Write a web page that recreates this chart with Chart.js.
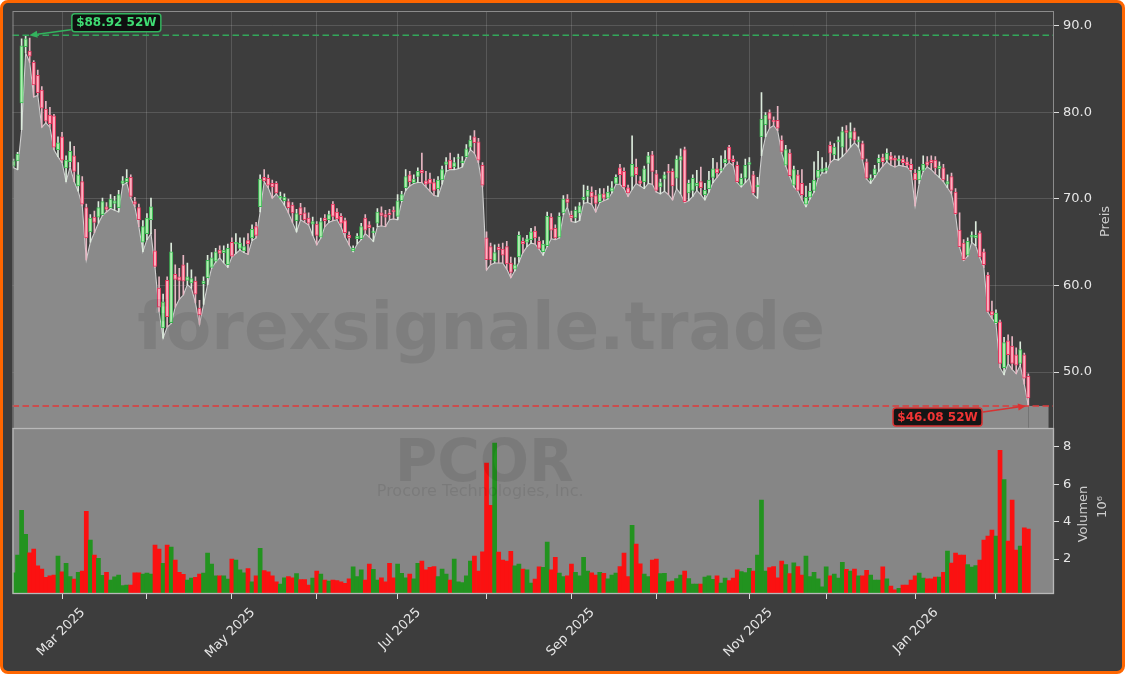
<!DOCTYPE html>
<html>
<head>
<meta charset="utf-8">
<script src="https://cdn.jsdelivr.net/npm/chart.js@4.4.1/dist/chart.umd.min.js"></script>
<style>
  html, body { margin: 0; padding: 0; background: #ffffff; }
  #rahmen { width: 1125px; height: 674px; box-sizing: border-box; border: 3px solid #ff6600; border-radius: 8px; background: #3d3d3d; overflow: hidden; }
  canvas { display: block; }
</style>
</head>
<body>
<div id="rahmen"><canvas id="chart" width="1119" height="668"></canvas></div>
<script>
// Monate und Handelstage (12.02.2025 - 12.02.2026)
const monate = ["Feb 2025", "Mar 2025", "Apr 2025", "May 2025", "Jun 2025", "Jul 2025", "Aug 2025", "Sep 2025", "Oct 2025", "Nov 2025", "Dec 2025", "Jan 2026", "Feb 2026"];
const handelstage = [12, 21, 21, 21, 20, 22, 21, 21, 23, 19, 22, 20, 9];
const beschriftet = ["Mar 2025", "May 2025", "Jul 2025", "Sep 2025", "Nov 2025", "Jan 2026"];
const preisTicks = [50, 60, 70, 80, 90];
const volTicks = [2, 4, 6, 8];

const eroeffnung = [
  73.8, 74.4, 81.1, 87.6, 87.1, 85.8, 84.3, 82.6, 80.4, 79.7,
  79.6, 75.7, 77.2, 73.6, 74.3, 75.0, 71.5, 72.0, 69.0, 66.2,
  67.9, 67.9, 68.2, 69.1, 69.0, 69.5, 69.0, 71.8, 72.0, 72.5,
  69.7, 69.0, 65.0, 66.0, 67.6, 64.0, 59.7, 55.1, 60.6, 55.7,
  61.3, 61.0, 62.4, 60.6, 60.3, 60.5, 57.4, 60.2, 60.9, 62.1,
  62.8, 64.1, 63.8, 62.4, 65.0, 64.8, 64.3, 64.0, 65.2, 65.5,
  66.8, 69.1, 72.5, 72.4, 71.8, 71.8, 70.1, 69.8, 69.7, 69.3,
  67.5, 69.0, 68.4, 67.8, 67.1, 67.1, 65.6, 67.8, 67.6, 69.4,
  68.5, 68.0, 67.5, 65.8, 64.0, 65.4, 65.4, 67.8, 67.0, 66.1,
  67.2, 68.4, 68.2, 68.4, 68.7, 68.0, 69.8, 71.3, 72.8, 71.9,
  72.6, 73.3, 72.1, 72.3, 71.9, 71.2, 72.2, 74.0, 74.5, 73.7,
  74.7, 74.2, 74.9, 76.0, 77.2, 76.6, 73.9, 65.5, 64.5, 62.8,
  64.4, 64.2, 64.5, 62.6, 61.9, 63.3, 65.1, 65.0, 65.3, 66.3,
  65.1, 63.9, 64.6, 67.9, 66.6, 65.6, 68.4, 70.0, 68.1, 67.8,
  68.4, 69.9, 70.3, 70.8, 70.4, 69.7, 70.6, 70.1, 70.9, 71.8,
  73.6, 73.2, 71.3, 72.6, 73.7, 72.1, 72.0, 74.1, 75.1, 72.9,
  71.4, 72.3, 73.2, 73.2, 72.4, 74.5, 75.7, 70.7, 71.0, 71.5,
  72.0, 70.5, 71.2, 72.5, 73.5, 73.3, 74.2, 76.0, 74.6, 73.9,
  71.6, 72.4, 74.0, 72.8, 71.4, 77.2, 78.6, 80.0, 79.1, 79.1,
  76.8, 73.9, 75.3, 71.6, 72.8, 71.8, 69.4, 70.2, 71.0, 72.5,
  73.2, 73.3, 76.2, 75.1, 76.6, 76.0, 77.9, 77.0, 77.8, 76.6,
  76.4, 74.3, 72.2, 72.8, 74.2, 74.8, 74.5, 75.0, 74.7, 74.4,
  74.6, 74.3, 74.0, 73.0, 72.2, 73.3, 74.3, 74.5, 74.5, 73.5,
  73.6, 71.7, 72.6, 70.8, 66.4, 64.9, 63.5, 65.6, 65.5, 66.1,
  63.9, 61.2, 57.0, 55.7, 55.8, 50.5, 53.6, 53.0, 52.0, 51.0,
  52.0, 49.5
];
const hoch = [
  74.6, 75.4, 88.5, 88.92, 88.6, 86.0, 84.9, 83.0, 81.3, 80.6,
  79.8, 77.2, 77.7, 75.0, 76.6, 76.1, 74.2, 72.6, 69.4, 68.2,
  68.6, 69.7, 70.1, 69.6, 70.5, 70.3, 71.0, 72.6, 73.4, 72.8,
  70.2, 69.4, 67.5, 68.3, 70.1, 66.5, 61.0, 59.0, 61.0, 64.9,
  62.4, 62.0, 63.5, 62.6, 61.8, 61.0, 58.3, 61.0, 63.5, 63.8,
  64.3, 64.6, 64.6, 64.8, 65.5, 66.0, 65.5, 65.5, 66.0, 67.0,
  67.3, 72.8, 73.4, 72.8, 72.2, 72.0, 70.8, 70.6, 70.0, 69.6,
  68.8, 69.5, 69.0, 68.4, 67.9, 67.4, 67.8, 68.2, 68.6, 69.7,
  68.9, 68.3, 67.8, 66.2, 64.6, 66.0, 67.2, 68.2, 67.4, 66.7,
  68.9, 69.1, 68.7, 68.8, 69.1, 70.5, 70.9, 73.4, 73.2, 72.8,
  73.6, 75.3, 73.2, 73.0, 72.3, 72.6, 73.8, 74.8, 75.3, 74.8,
  75.2, 74.9, 76.3, 77.3, 77.9, 77.0, 74.2, 66.2, 64.9, 64.7,
  64.8, 64.9, 65.1, 63.3, 63.2, 66.2, 65.5, 65.8, 66.6, 66.8,
  65.6, 65.2, 68.5, 68.3, 67.0, 68.4, 70.4, 70.5, 68.6, 69.1,
  69.6, 71.6, 71.5, 71.4, 71.0, 71.2, 71.2, 71.5, 72.0, 72.8,
  74.0, 73.6, 71.6, 77.3, 74.6, 72.6, 73.8, 75.4, 75.5, 73.3,
  72.3, 73.1, 74.0, 73.5, 75.0, 75.8, 76.0, 72.2, 72.8, 73.3,
  73.7, 71.8, 73.2, 74.7, 74.2, 75.0, 75.6, 76.2, 75.0, 74.3,
  72.9, 74.6, 74.8, 73.2, 72.5, 82.3, 80.0, 80.3, 79.5, 80.7,
  77.3, 76.2, 75.7, 73.8, 73.3, 73.4, 71.5, 71.8, 74.3, 75.5,
  74.8, 74.2, 76.6, 76.4, 77.2, 78.3, 78.5, 78.8, 78.2, 77.2,
  76.7, 74.6, 72.8, 73.9, 75.1, 75.2, 75.8, 75.4, 75.0, 75.0,
  75.0, 74.8, 74.6, 73.4, 73.7, 75.0, 74.9, 75.0, 74.9, 74.3,
  74.0, 72.8, 73.0, 71.2, 68.4, 65.3, 65.5, 66.2, 67.4, 66.3,
  64.2, 61.5, 58.2, 57.2, 56.0, 54.0, 54.3, 54.1, 52.8, 53.5,
  52.2, 49.8
];
const tief = [
  73.6, 73.4, 78.0, 86.9, 85.8, 81.8, 82.0, 78.3, 78.8, 78.3,
  75.7, 74.9, 74.2, 72.0, 73.7, 72.0, 70.9, 69.2, 62.95, 65.0,
  66.1, 67.2, 68.1, 68.5, 68.9, 68.7, 68.5, 71.6, 71.9, 70.1,
  69.1, 66.8, 63.9, 65.3, 66.0, 62.1, 57.0, 53.9, 55.2, 55.6,
  57.5, 58.4, 58.9, 60.1, 59.7, 58.0, 55.5, 57.8, 60.1, 62.0,
  62.7, 63.2, 62.6, 62.1, 63.3, 63.7, 64.1, 63.8, 63.6, 65.2,
  65.5, 68.5, 72.0, 71.3, 70.1, 70.6, 70.0, 69.3, 68.4, 67.3,
  66.2, 67.6, 67.3, 67.0, 65.8, 64.7, 65.5, 66.8, 67.3, 67.5,
  67.6, 66.8, 65.6, 64.7, 63.9, 64.8, 65.3, 66.0, 65.6, 65.1,
  66.8, 66.9, 66.8, 67.6, 67.7, 67.6, 69.7, 71.0, 71.5, 71.8,
  71.9, 71.9, 71.4, 70.9, 70.4, 70.3, 71.7, 73.2, 73.4, 73.4,
  73.5, 73.7, 74.8, 75.7, 75.3, 74.2, 71.4, 61.8, 62.4, 62.6,
  62.6, 62.6, 61.9, 60.9, 61.7, 62.7, 63.8, 64.5, 64.9, 64.8,
  64.2, 63.5, 64.5, 65.4, 65.3, 65.5, 68.2, 69.1, 67.4, 67.3,
  67.5, 69.5, 69.6, 69.4, 68.5, 69.6, 69.8, 70.0, 70.7, 71.7,
  71.7, 71.2, 70.3, 71.1, 71.8, 71.5, 71.2, 71.8, 71.7, 70.8,
  70.6, 70.9, 70.5, 69.9, 71.2, 70.6, 69.6, 69.8, 70.3, 71.0,
  70.5, 69.9, 70.8, 71.9, 72.5, 73.1, 73.8, 74.2, 73.9, 71.9,
  71.4, 71.9, 72.4, 70.5, 70.1, 75.0, 77.2, 78.2, 78.5, 77.9,
  75.3, 73.8, 72.6, 71.4, 70.9, 69.9, 69.1, 70.0, 70.8, 72.4,
  73.0, 73.0, 74.2, 74.6, 74.5, 74.9, 75.4, 76.0, 76.5, 76.0,
  74.5, 72.3, 71.8, 72.5, 73.2, 73.8, 74.3, 73.9, 73.7, 73.9,
  73.8, 73.7, 73.2, 69.2, 71.8, 73.2, 73.7, 73.4, 72.9, 72.5,
  72.0, 71.3, 70.6, 68.2, 64.4, 62.9, 63.4, 65.0, 64.6, 63.2,
  62.1, 56.9, 56.2, 55.6, 50.5, 49.7, 51.0, 50.3, 49.8, 50.8,
  48.6, 46.08
];
const schluss = [
  74.4, 75.2, 87.7, 88.5, 86.5, 83.2, 82.3, 80.5, 79.0, 78.7,
  76.0, 76.5, 74.5, 74.5, 75.5, 73.2, 72.8, 69.4, 65.5, 67.8,
  67.3, 69.0, 69.7, 68.8, 70.0, 69.8, 70.5, 72.1, 72.4, 70.3,
  69.4, 67.6, 66.8, 67.8, 69.1, 62.2, 57.5, 58.1, 56.4, 63.9,
  60.7, 60.6, 60.5, 61.0, 60.8, 59.0, 56.6, 60.5, 62.9, 63.2,
  63.9, 63.7, 64.1, 64.3, 63.4, 65.0, 64.9, 64.5, 64.8, 66.5,
  65.8, 72.3, 72.1, 71.6, 71.4, 70.7, 70.3, 70.2, 69.0, 68.4,
  68.3, 68.2, 67.6, 67.2, 67.4, 65.8, 67.4, 67.5, 68.2, 68.0,
  67.7, 67.2, 66.1, 65.5, 64.3, 65.7, 66.8, 66.4, 66.7, 66.3,
  68.5, 68.1, 67.9, 68.2, 68.5, 69.8, 70.5, 72.6, 72.0, 72.3,
  73.2, 73.0, 71.7, 71.8, 71.0, 72.2, 73.4, 74.3, 73.5, 74.2,
  74.8, 74.4, 75.8, 76.8, 76.5, 74.5, 71.6, 63.0, 63.0, 63.8,
  64.1, 63.5, 62.5, 61.5, 62.4, 65.8, 64.8, 65.4, 66.2, 65.5,
  64.3, 64.8, 68.0, 66.4, 65.5, 68.0, 70.0, 69.6, 67.8, 68.7,
  69.2, 70.2, 71.0, 70.2, 69.5, 70.6, 70.1, 70.8, 71.3, 72.5,
  72.8, 71.4, 70.7, 74.0, 72.8, 71.8, 73.5, 75.0, 73.2, 71.0,
  71.9, 72.8, 73.0, 71.5, 74.6, 74.9, 69.7, 71.8, 72.4, 71.8,
  71.3, 71.0, 72.2, 73.5, 73.0, 73.5, 74.6, 74.5, 74.3, 72.0,
  72.4, 73.9, 74.2, 70.7, 71.6, 79.2, 79.7, 79.2, 78.9, 78.2,
  75.5, 75.7, 72.7, 73.4, 71.0, 70.5, 70.2, 70.9, 72.2, 73.3,
  73.5, 73.6, 75.3, 76.0, 76.8, 77.8, 77.7, 77.8, 76.8, 76.8,
  74.6, 72.4, 72.4, 73.5, 74.7, 74.3, 75.3, 74.5, 74.5, 74.6,
  74.2, 73.9, 73.4, 72.2, 73.3, 74.0, 73.9, 74.2, 73.6, 73.8,
  72.2, 72.0, 71.0, 68.3, 64.5, 63.0, 65.1, 65.8, 65.8, 63.3,
  62.4, 57.0, 56.6, 56.8, 51.0, 53.4, 52.0, 51.0, 50.8, 52.6,
  49.3, 47.0
];
// Volumen in Millionen
const volumen = [
  1.27, 2.21, 4.61, 3.33, 2.34, 2.53, 1.64, 1.47, 1.02, 1.11,
  1.15, 2.16, 1.32, 1.77, 1.07, 0.93, 1.29, 1.36, 4.56, 3.01,
  2.21, 2.04, 1.13, 1.29, 0.88, 1.05, 1.15, 0.58, 0.61, 0.61,
  1.27, 1.27, 1.2, 1.25, 1.2, 2.75, 2.53, 1.77, 2.75, 2.64,
  1.95, 1.29, 1.18, 0.88, 0.99, 1.02, 1.2, 1.25, 2.32, 1.73,
  1.11, 1.11, 1.11, 0.93, 2.0, 1.95, 1.42, 1.27, 1.49, 0.79,
  1.11, 2.57, 1.38, 1.32, 1.11, 0.79, 0.67, 1.0, 1.07, 1.0,
  1.22, 0.9, 0.9, 0.61, 0.99, 1.36, 1.2, 0.88, 0.83, 0.88,
  0.85, 0.79, 0.7, 0.95, 1.59, 1.07, 1.42, 0.88, 1.73, 1.45,
  0.88, 1.0, 0.79, 1.77, 1.0, 1.73, 1.24, 1.0, 1.2, 0.94,
  1.77, 1.89, 1.42, 1.56, 1.6, 1.07, 1.47, 1.2, 0.88, 2.0,
  0.79, 0.74, 1.11, 1.89, 2.16, 1.36, 2.39, 7.13, 4.88, 8.2,
  2.37, 1.95, 1.89, 2.42, 1.64, 1.73, 1.47, 1.42, 0.72, 0.93,
  1.58, 1.56, 2.91, 1.42, 2.1, 1.25, 1.07, 1.1, 1.73, 1.29,
  1.11, 2.1, 1.36, 1.27, 1.15, 1.29, 1.24, 0.94, 1.15, 1.25,
  1.6, 2.32, 1.07, 3.81, 2.8, 1.75, 1.2, 1.07, 1.95, 2.0,
  1.22, 1.24, 0.79, 0.82, 0.96, 1.15, 1.36, 0.96, 0.67, 0.67,
  0.67, 1.04, 1.1, 0.92, 1.1, 0.72, 0.99, 0.85, 0.99, 1.42,
  1.33, 1.28, 1.51, 1.36, 2.21, 5.15, 1.36, 1.54, 1.6, 1.0,
  1.89, 1.7, 1.22, 1.8, 1.6, 1.15, 2.16, 1.07, 1.29, 0.94,
  0.52, 1.58, 1.1, 1.2, 0.98, 1.83, 1.45, 1.36, 1.47, 1.1,
  1.1, 1.4, 1.15, 0.88, 0.88, 1.58, 0.94, 0.56, 0.35, 0.44,
  0.61, 0.61, 0.88, 1.1, 1.25, 0.99, 0.94, 0.94, 1.04, 1.04,
  1.29, 2.43, 1.79, 2.32, 2.21, 2.21, 1.7, 1.57, 1.65, 1.95,
  3.01, 3.23, 3.55, 3.23, 7.81, 6.25, 2.96, 5.15, 2.48, 2.69,
  3.67, 3.6
];

const tage = schluss.map((_, i) => i);
const steigt = schluss.map((c, i) => c >= eroeffnung[i]);

const monatsStart = [];
let summe = 0;
handelstage.forEach(n => { monatsStart.push(summe); summe += n; });

const hoch52 = Math.max(...hoch);
const tief52 = Math.min(...tief);
const letzter = tage.length - 1;

Chart.defaults.font.family = '"DejaVu Sans", sans-serif';
Chart.defaults.font.size = 13;

function ohnePadding(s) {
  s.paddingTop = 0;
  s.paddingBottom = 0;
  s.paddingLeft = 0;
  s.paddingRight = 0;
}

function markierung(ctx, spitzeX, spitzeY, startX, startY, boxX, boxY, text, farbe, textFarbe) {
  const w = Math.atan2(spitzeY - startY, spitzeX - startX);
  const kopf = 8;
  const bx = spitzeX - kopf * Math.cos(w), by = spitzeY - kopf * Math.sin(w);
  ctx.strokeStyle = farbe;
  ctx.fillStyle = farbe;
  ctx.lineWidth = 1.5;
  ctx.setLineDash([]);
  ctx.beginPath(); ctx.moveTo(startX, startY); ctx.lineTo(bx, by); ctx.stroke();
  ctx.beginPath();
  ctx.moveTo(spitzeX, spitzeY);
  ctx.lineTo(bx + 3.5 * Math.sin(w), by - 3.5 * Math.cos(w));
  ctx.lineTo(bx - 3.5 * Math.sin(w), by + 3.5 * Math.cos(w));
  ctx.closePath(); ctx.fill();

  ctx.beginPath();
  if (ctx.roundRect) ctx.roundRect(boxX, boxY, 89, 18, 3); else ctx.rect(boxX, boxY, 89, 18);
  ctx.fillStyle = 'rgba(12,12,12,0.93)';
  ctx.fill();
  ctx.lineWidth = 1.5;
  ctx.strokeStyle = farbe;
  ctx.stroke();
  ctx.fillStyle = textFarbe;
  ctx.font = 'bold 12px "DejaVu Sans"';
  ctx.textAlign = 'center';
  ctx.textBaseline = 'middle';
  ctx.fillText(text, boxX + 44.5, boxY + 9.5);
}

const extras = {
  id: 'extras',
  beforeDatasetsDraw(chart) {
    const {ctx, chartArea} = chart;
    const x = chart.scales.x, y = chart.scales.y, yv = chart.scales.yv;
    ctx.save();
    ctx.fillStyle = '#868686';
    ctx.fillRect(chartArea.left, yv.top, chartArea.right - chartArea.left, yv.bottom - yv.top);
    // Flaeche nach dem letzten Handelstag bis zum 52W-Tief
    const x0 = x.getPixelForValue(letzter), x1 = x.getPixelForValue(letzter + 5);
    const yT = y.getPixelForValue(tief52);
    ctx.fillStyle = '#8a8a8a';
    ctx.fillRect(x0, yT, x1 - x0, y.bottom - yT);
    ctx.restore();
  },
  afterDatasetsDraw(chart) {
    const {ctx, chartArea} = chart;
    const x = chart.scales.x, y = chart.scales.y, yv = chart.scales.yv;
    const mitte = chartArea.left + 0.45 * (chartArea.right - chartArea.left);
    ctx.save();

    // Wasserzeichen
    ctx.fillStyle = 'rgba(0,0,0,0.085)';
    ctx.textAlign = 'center';
    ctx.textBaseline = 'alphabetic';
    ctx.font = 'bold 66px "DejaVu Sans"';
    ctx.fillText('forexsignale.trade', mitte, y.top + 0.81 * (y.bottom - y.top));
    ctx.font = 'bold 58px "DejaVu Sans"';
    ctx.fillText('PCOR', mitte + 3, yv.top + 53);
    ctx.font = '16px "DejaVu Sans"';
    ctx.fillText('Procore Technologies, Inc.', mitte - 1, yv.top + 68);

    // 52W Linien
    const yH = y.getPixelForValue(hoch52), yT = y.getPixelForValue(tief52);
    ctx.lineWidth = 1.5;
    ctx.setLineDash([6.5, 3.5]);
    ctx.strokeStyle = '#32a85a';
    ctx.beginPath(); ctx.moveTo(chartArea.left, yH); ctx.lineTo(chartArea.right, yH); ctx.stroke();
    ctx.strokeStyle = '#e03a3a';
    ctx.beginPath(); ctx.moveTo(chartArea.left, yT); ctx.lineTo(chartArea.right, yT); ctx.stroke();

    const hx = x.getPixelForValue(hoch.indexOf(hoch52)) + 3.7;
    markierung(ctx, hx, yH, hx + 41.5, yH - 5.5, hx + 42.5, yH - 21.5,
      '$' + hoch52.toFixed(2) + ' 52W', '#33b35e', '#3fdc73');
    const tx = x.getPixelForValue(tief.indexOf(tief52)) - 2.3;
    markierung(ctx, tx, yT, tx - 43, yT + 6, tx - 133, yT + 2,
      '$' + tief52.toFixed(2) + ' 52W', '#d83232', '#f03434');
    ctx.restore();
  },
  afterDraw(chart) {
    const {ctx, chartArea} = chart;
    const y = chart.scales.y, yv = chart.scales.yv;
    ctx.save();
    // Rahmen der Panels
    ctx.setLineDash([]);
    ctx.lineWidth = 1;
    ctx.strokeStyle = '#8c8c8c';
    ctx.strokeRect(chartArea.left + 0.5, y.top + 0.5, chartArea.right - chartArea.left - 1, y.bottom - y.top);
    ctx.strokeStyle = '#b8b8b8';
    ctx.lineWidth = 1.3;
    ctx.strokeRect(chartArea.left + 0.5, yv.top + 0.5, chartArea.right - chartArea.left - 1, yv.bottom - yv.top - 1);

    // Achsentitel
    ctx.fillStyle = '#cdcdcd';
    ctx.font = '13px "DejaVu Sans"';
    ctx.textAlign = 'center';
    ctx.textBaseline = 'middle';
    const titel = (t, px, py) => {
      ctx.save(); ctx.translate(px, py); ctx.rotate(-Math.PI / 2); ctx.fillText(t, 0, 0); ctx.restore();
    };
    titel('Preis', 1103, (y.top + y.bottom) / 2 + 2);
    titel('Volumen', 1081, yv.top + 86);
    titel('10\u2076', 1100, yv.top + 79);
    ctx.restore();
  }
};

new Chart(document.getElementById('chart'), {
  type: 'bar',
  data: {
    datasets: [
      {
        type: 'line',
        data: tage.map(i => ({x: i, y: tief[i]})),
        yAxisID: 'y',
        borderColor: '#cfcfcf',
        borderWidth: 1.1,
        backgroundColor: '#8a8a8a',
        fill: 'start',
        pointRadius: 0,
        tension: 0,
        order: 3
      },
      {
        data: tage.map(i => ({x: i, y: [tief[i], hoch[i]]})),
        yAxisID: 'y',
        backgroundColor: tage.map(i => steigt[i] ? '#dcebdc' : '#e6b6c2'),
        barThickness: 1,
        grouped: false,
        order: 2
      },
      {
        data: tage.map(i => ({x: i, y: [eroeffnung[i], schluss[i]]})),
        yAxisID: 'y',
        backgroundColor: tage.map(i => steigt[i] ? 'rgba(178,238,178,0.95)' : 'rgba(255,178,194,0.95)'),
        borderColor: tage.map(i => steigt[i] ? '#3dbd55' : '#e6375f'),
        borderWidth: 1,
        borderSkipped: false,
        barThickness: 3.4,
        grouped: false,
        order: 1
      },
      {
        data: tage.map(i => ({x: i, y: volumen[i]})),
        yAxisID: 'yv',
        backgroundColor: tage.map(i => steigt[i] ? '#22931f' : '#fb1111'),
        barPercentage: 1,
        categoryPercentage: 1,
        grouped: false,
        order: 4
      }
    ]
  },
  options: {
    responsive: false,
    animation: false,
    events: [],
    layout: { padding: { left: 9.5, top: 8, right: 0, bottom: 0 }, autoPadding: false },
    plugins: { legend: { display: false }, tooltip: { enabled: false } },
    scales: {
      x: {
        type: 'linear',
        min: -0.25,
        max: 257.35,
        offset: false,
        afterBuildTicks: s => { s.ticks = monatsStart.slice(1).map(v => ({value: v})); },
        afterFit: s => { s.height = 77; ohnePadding(s); },
        grid: { offset: false, color: 'rgba(255,255,255,0.14)', tickLength: 5, tickColor: '#dddddd' },
        border: { display: false },
        ticks: {
          autoSkip: false,
          minRotation: 45,
          maxRotation: 45,
          labelOffset: 21,
          padding: 6,
          color: '#e6e6e6',
          callback: v => {
            const name = monate[monatsStart.indexOf(v)];
            return beschriftet.includes(name) ? name : '';
          }
        }
      },
      y: {
        type: 'linear',
        position: 'right',
        stack: 'panels',
        stackWeight: 417,
        min: 43.53,
        max: 91.73,
        afterBuildTicks: s => { s.ticks = preisTicks.map(v => ({value: v})); },
        afterFit: s => { s.width = 68; ohnePadding(s); },
        grid: { color: 'rgba(255,255,255,0.14)', tickLength: 5, tickColor: '#dddddd' },
        border: { display: false },
        ticks: { padding: 4, color: '#e6e6e6', callback: v => v.toFixed(1) }
      },
      yv: {
        type: 'linear',
        position: 'right',
        stack: 'panels',
        stackWeight: 166,
        min: 0.133,
        max: 9.01,
        beginAtZero: false,
        afterBuildTicks: s => { s.ticks = volTicks.map(v => ({value: v})); },
        afterFit: s => { s.width = 68; ohnePadding(s); },
        grid: { drawOnChartArea: false, tickLength: 5, tickColor: '#dddddd' },
        border: { display: false },
        ticks: { padding: 4, color: '#e6e6e6', callback: v => String(v) }
      }
    }
  },
  plugins: [extras]
});
</script>
</body>
</html>
